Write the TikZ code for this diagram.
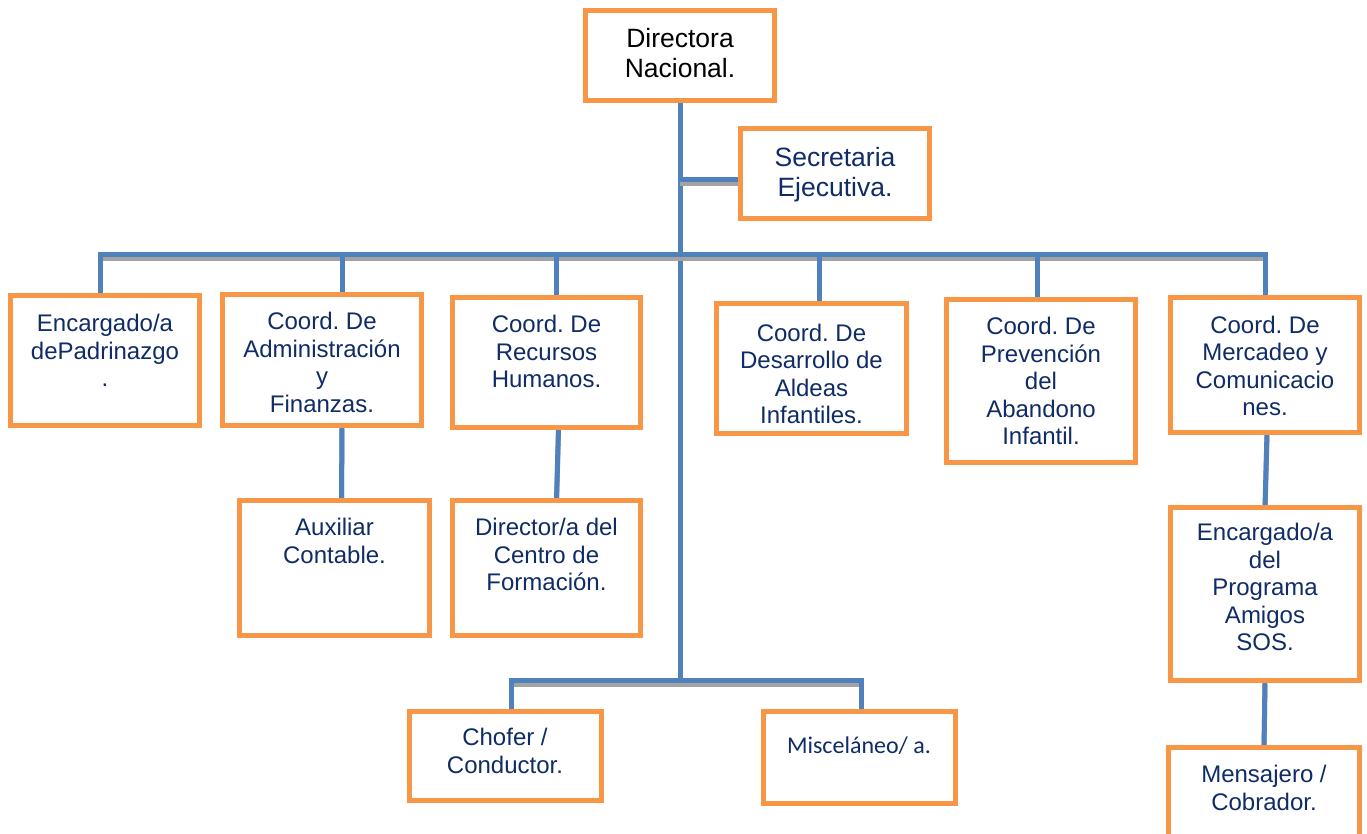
\documentclass[tikz,border=0pt]{standalone}
\usepackage{fontspec}
\setmainfont{Liberation Sans}
\newfontfamily\calfont{Carlito}
\frenchspacing
\definecolor{orgorange}{HTML}{F79646}
\definecolor{orgblue}{HTML}{4F81BD}
\definecolor{orgnavy}{HTML}{102C66}
\definecolor{orgshadow}{HTML}{A3A3A3}
\pgfdeclarelayer{background}
\pgfsetlayers{background,main}
\tikzset{
  obox/.style={draw=orgorange, line width=2.5pt, fill=white, rectangle, inner sep=0pt, outer sep=0pt},
  txt/.style={anchor=north, inner sep=0pt, align=center, text=orgnavy},
  fbig/.style={font=\fontsize{13.25pt}{15pt}\selectfont},
  fmid/.style={font=\fontsize{12pt}{13.75pt}\selectfont},
  fcal/.style={font=\calfont\fontsize{12pt}{13.75pt}\selectfont},
  conn/.style={draw=orgblue, line width=2.5pt,
    preaction={draw=orgshadow, line width=2.5pt, transform canvas={yshift=-2pt}}}
}
\begin{document}
\begin{tikzpicture}[x=0.5pt,y=-0.5pt]
\useasboundingbox (0,0) rectangle (1367,834);

\node[obox, minimum width=94.5pt, minimum height=45pt,
  label={[txt, fbig, text=black, yshift=-8.75pt]north:{Directora\\Nacional.}}] (dir) at (680,55.5) {};
\node[obox, minimum width=94.5pt, minimum height=45pt,
  label={[txt, fbig, yshift=-9.25pt]north:{Secretaria\\Ejecutiva.}}] (sec) at (835,173.5) {};

\node[obox, minimum width=94.5pt, minimum height=65pt,
  label={[txt, fmid, yshift=-9.25pt]north:{Encargado/a\\dePadrinazgo\\.}}] (pad) at (105,360.5) {};
\node[obox, minimum width=99.5pt, minimum height=65.5pt,
  label={[txt, fmid, yshift=-8.75pt]north:{Coord. De\\Administración\\y\\Finanzas.}}] (adm) at (322,360) {};
\node[obox, minimum width=94pt, minimum height=65pt,
  label={[txt, fmid, yshift=-8.75pt]north:{Coord. De\\Recursos\\Humanos.}}] (rrhh) at (546.5,362.5) {};
\node[obox, minimum width=95pt, minimum height=65pt,
  label={[txt, fmid, yshift=-10pt]north:{Coord. De\\Desarrollo de\\Aldeas\\Infantiles.}}] (des) at (811.5,368.5) {};
\node[obox, minimum width=94.5pt, minimum height=81.5pt,
  label={[txt, fmid, yshift=-8.75pt]north:{Coord. De\\Prevención\\del\\Abandono\\Infantil.}}] (prev) at (1041,381) {};
\node[obox, minimum width=94.5pt, minimum height=67.5pt,
  label={[txt, fmid, yshift=-9pt]north:{Coord. De\\Mercadeo y\\Comunicacio\\nes.}}] (mer) at (1265,365) {};

\node[obox, minimum width=95pt, minimum height=67.5pt,
  label={[txt, fmid, yshift=-8.75pt]north:{Auxiliar\\Contable.}}] (aux) at (334.5,568) {};
\node[obox, minimum width=94pt, minimum height=67.5pt,
  label={[txt, fmid, yshift=-8.75pt]north:{Director/a del\\Centro de\\Formación.}}] (cen) at (546.5,568) {};
\node[obox, minimum width=94.5pt, minimum height=86.5pt,
  label={[txt, fmid, yshift=-7.75pt]north:{Encargado/a\\del\\Programa\\Amigos\\SOS.}}] (ami) at (1265,594) {};
\node[obox, minimum width=95.5pt, minimum height=56.25pt,
  label={[txt, fmid, yshift=-8.75pt]north:{Mensajero /\\Cobrador.}}] (men) at (1264,803.75) {};

\node[obox, minimum width=96pt, minimum height=44.5pt,
  label={[txt, fmid, yshift=-8.25pt]north:{Chofer /\\Conductor.}}] (cho) at (505,756) {};
\node[obox, minimum width=96pt, minimum height=46pt,
  label={[txt, fcal, yshift=-12.5pt]north:{Misceláneo/ a.}}] (mis) at (859,757.5) {};

\coordinate (j1) at (680,180);
\coordinate (j2) at (680,255);
\coordinate (j3) at (680,680);

\begin{pgfonlayer}{background}
\draw[conn] (dir.south) -- (j3);
\draw[conn] (j1) -- (j1 -| sec.west);
\draw[conn] ([xshift=-2.5pt]pad.north) |- (j2) -| (mer.north);
\draw[conn] ([xshift=10pt]adm.north) -- ([xshift=10pt]adm.north |- j2);
\draw[conn] ([xshift=5pt]rrhh.north) -- ([xshift=5pt]rrhh.north |- j2);
\draw[conn] ([xshift=3.75pt]des.north) -- ([xshift=3.75pt]des.north |- j2);
\draw[conn] ([xshift=-2pt]prev.north) -- ([xshift=-2pt]prev.north |- j2);
\draw[conn] ([xshift=10pt]adm.south) -- ([xshift=3.5pt]aux.north);
\draw[conn] ([xshift=6pt]rrhh.south) -- ([xshift=5pt]cen.north);
\draw[conn] ([xshift=1pt]mer.south) -- (ami.north);
\draw[conn] (ami.south) -- (men.north);
\draw[conn] ([xshift=3pt]cho.north) |- (j3) -| ([xshift=1pt]mis.north);
\end{pgfonlayer}
\end{tikzpicture}
\end{document}
